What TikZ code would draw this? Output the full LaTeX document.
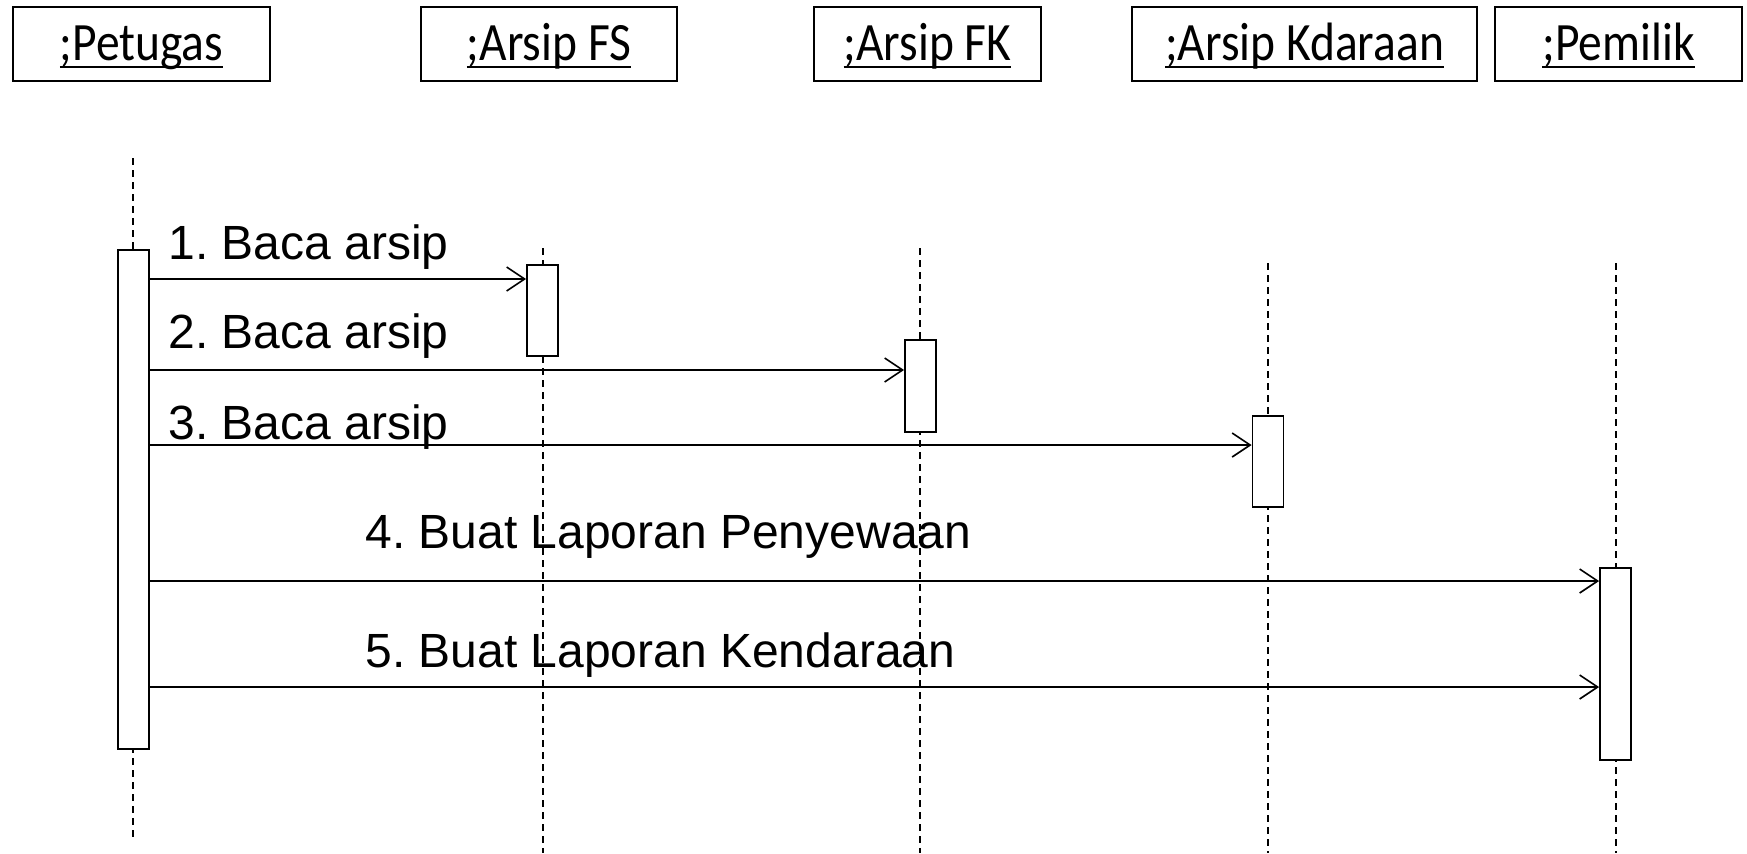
\documentclass[tikz,border=0pt]{standalone}
\usepackage{fontspec}
\setmainfont{Liberation Sans}
\newfontfamily\headfont[FakeStretch=0.88]{Carlito}
\usepackage{tikz}
\usetikzlibrary{arrows.meta, positioning}

\newcommand\uname[1]{\setbox0\hbox{#1}\rlap{\rule[-4.2pt]{\wd0}{1.4pt}}\box0}

\begin{document}
\frenchspacing
\begin{tikzpicture}[
        x=0.5pt, y=-0.5pt,
        actor/.style={
            draw,
            line width=0.8pt,
            minimum height=37pt,
            text height=18pt,
            text depth=2pt,
            inner sep=0pt,
            font=\headfont\fontsize{27}{30}\selectfont
        },
        lifeline/.style={dashed, dash pattern=on 3.5pt off 2.5pt, line width=0.75pt},
        activation/.style={
            draw,
            line width=0.9pt,
            fill=white,
            minimum width=15.5pt,
            inner sep=0pt,
            anchor=north
        },
        msg/.style={-{Straight Barb[length=9pt,width=12pt]}, line width=0.8pt},
        msglabel/.style={
            anchor=base west,
            inner sep=0pt,
            font=\fontsize{24}{28}\selectfont
        }
    ]
        \useasboundingbox (0,0) rectangle (1747,853);

        \node[actor, minimum width=128.5pt] (petugas) at (141.5,44) {\uname{;Petugas}};
        \node[actor, minimum width=128pt] (arsipfs) at (549,44) {\uname{;Arsip FS}};
        \node[actor, minimum width=113.5pt] (arsipfk) at (927.5,44) {\uname{;Arsip FK}};
        \node[actor, minimum width=172.5pt] (arsipkd) at (1304.5,44) {\uname{;Arsip Kdaraan}};
        \node[actor, minimum width=123.5pt] (pemilik) at (1618.5,44) {\uname{;Pemilik}};

        \coordinate (lP) at (133,158);
        \coordinate (lFS) at (543,248);
        \coordinate (lFK) at (920,248);
        \coordinate (lKd) at (1268,263);
        \coordinate (lPm) at (1616,263);
        \coordinate (endP) at (133,838);
        \coordinate (bottom) at (0,853);

        \draw[lifeline] (lP) -- (endP);
        \foreach \l in {lFS, lFK, lKd, lPm}
            \draw[lifeline] (\l) -- (\l |- bottom);

        \node[activation, minimum height=249.5pt] (actP) at (133.5,249) {};
        \node[activation, minimum height=45.5pt] (actFS) at (542.5,264) {};
        \node[activation, minimum height=46pt] (actFK) at (920.5,339) {};
        \node[activation, minimum height=45.5pt] (actKd) at (1268,415) {};
        \node[activation, minimum height=96pt] (actPm) at (1615.5,567) {};

        \coordinate (m1) at (0,279);
        \coordinate (m2) at (0,370);
        \coordinate (m3) at (0,445);
        \coordinate (m4) at (0,581);
        \coordinate (m5) at (0,687);

        \draw[msg] (actP.east |- m1) -- (actFS.west |- m1);
        \draw[msg] (actP.east |- m2) -- (actFK.west |- m2);
        \draw[msg] (actP.east |- m3) -- (actKd.west |- m3);
        \draw[msg] (actP.east |- m4) -- (actPm.west |- m4);
        \draw[msg] (actP.east |- m5) -- (actPm.west |- m5);

        \node[msglabel] (lab1) at (168,259) {1. Baca arsip};
        \node[msglabel] (lab2) at (168,348) {2. Baca arsip};
        \node[msglabel] (lab3) at (168,439) {3. Baca arsip};
        \node[msglabel] (lab4) at (365,548) {4. Buat Laporan Penyewaan};
        \node[msglabel] (lab5) at (365,667) {5. Buat Laporan Kendaraan};
    \end{tikzpicture}
\end{document}
